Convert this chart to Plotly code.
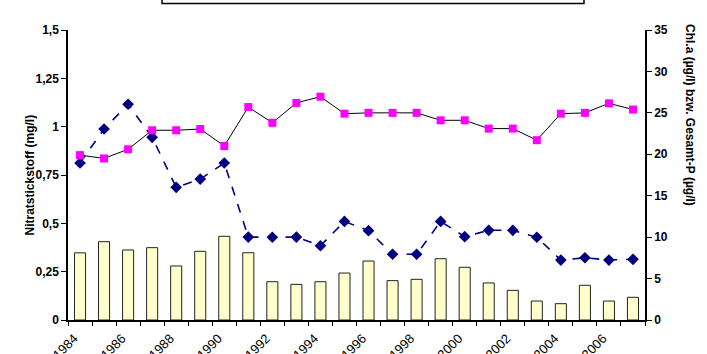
import plotly.graph_objects as go

years = list(range(1984, 2008))
chla_bars = [8.1, 9.45, 8.45, 8.73, 6.52, 8.29, 10.1, 8.12, 4.62, 4.3, 4.62, 5.67,
             7.12, 4.75, 4.91, 7.4, 6.36, 4.47, 3.58, 2.29, 1.97, 4.19, 2.29, 2.74]
gesamt_p = [19.9, 19.5, 20.6, 22.9, 22.9, 23.05, 21.0, 25.7, 23.8, 26.2, 26.95, 24.9,
            25.0, 25.0, 25.0, 24.1, 24.1, 23.1, 23.1, 21.7, 24.9, 25.0, 26.15, 25.4]
nitrat = [0.812, 0.988, 1.116, 0.945, 0.686, 0.729, 0.812, 0.429, 0.428, 0.429, 0.384, 0.51,
          0.462, 0.34, 0.34, 0.51, 0.431, 0.464, 0.464, 0.428, 0.31, 0.322, 0.31, 0.314]

left_ticks = [0, 0.25, 0.5, 0.75, 1, 1.25, 1.5]
left_ticktext = ["0", "0,25", "0,5", "0,75", "1", "1,25", "1,5"]
right_ticks = [0, 5, 10, 15, 20, 25, 30, 35]
x_label_years = list(range(1984, 2007, 2))

FONT = "Liberation Sans, Arial, sans-serif"

fig = go.Figure()
fig.add_trace(go.Bar(
    x=years, y=chla_bars, yaxis="y2", name="Chl.a",
    marker=dict(color="#FFFFCC", line=dict(color="#222222", width=1)),
))
fig.add_trace(go.Scatter(
    x=years, y=gesamt_p, yaxis="y2", name="Gesamt-P", mode="lines+markers",
    line=dict(color="#000000", width=1),
    marker=dict(symbol="square", size=8, color="#FF00FF"),
))
fig.add_trace(go.Scatter(
    x=years, y=nitrat, yaxis="y", name="Nitratstickstoff", mode="lines+markers",
    line=dict(color="#000080", width=1.6, dash="dash"),
    marker=dict(symbol="diamond", size=9, color="#000080"),
))

fig.update_layout(
    width=707, height=354,
    margin=dict(l=68, r=62, t=30, b=34),
    paper_bgcolor="white", plot_bgcolor="white",
    showlegend=False,
    bargap=0.54,
    font=dict(family=FONT, size=12, color="#000000"),
    xaxis=dict(
        range=[1983.5, 2007.5],
        tickvals=x_label_years,
        ticktext=[str(y) for y in x_label_years],
        tickangle=-45,
        ticks="",
        ticklabelshift=-6,
        ticklabelstandoff=4,
        automargin=False,
        minor=dict(tickvals=[y - 0.5 for y in years] + [2007.5], ticks="outside",
                   ticklen=4, tickcolor="#000000", tickwidth=1),
        showline=True, linecolor="#000000", linewidth=1.5,
        showgrid=False, zeroline=False,
        tickfont=dict(family=FONT, size=13, color="#000000"),
    ),
    yaxis=dict(
        range=[0, 1.5], automargin=False,
        tickvals=left_ticks, ticktext=left_ticktext,
        ticks="outside", ticklen=5, tickcolor="#000000",
        showline=True, linecolor="#000000", linewidth=1.5,
        showgrid=False, zeroline=False,
        tickfont=dict(family=FONT, size=12, color="#000000", weight="bold"),
    ),
    yaxis2=dict(
        range=[0, 35], overlaying="y", side="right", automargin=False,
        tickvals=right_ticks,
        ticks="outside", ticklen=5, tickcolor="#000000",
        showline=True, linecolor="#000000", linewidth=1.5,
        showgrid=False, zeroline=False,
        tickfont=dict(family=FONT, size=12, color="#000000", weight="bold"),
    ),
    annotations=[
        dict(text="<b>Nitratstickstoff (mg/l)</b>", xref="paper", yref="paper",
             x=-0.065, y=0.5, xanchor="center", yanchor="middle", textangle=-90,
             showarrow=False, font=dict(family=FONT, size=12, color="#000000")),
        dict(text="<b>Chl.a (µg/l) bzw. Gesamt-P (µg/l)</b>", xref="paper", yref="paper",
             x=1.0 + (690 - 645) / 577, y=1 - (115 - 30) / 290, xanchor="center",
             yanchor="middle", textangle=90,
             showarrow=False, font=dict(family=FONT, size=12, color="#000000")),
    ],
    shapes=[
        dict(type="rect", xref="paper", yref="paper",
             x0=(162 - 68) / 577, x1=(584 - 68) / 577,
             y0=1 + 26.5 / 290, y1=1 + 40 / 290,
             line=dict(color="#000000", width=1.5), fillcolor="rgba(0,0,0,0)"),
    ],
)

fig.write_html("out.html")
